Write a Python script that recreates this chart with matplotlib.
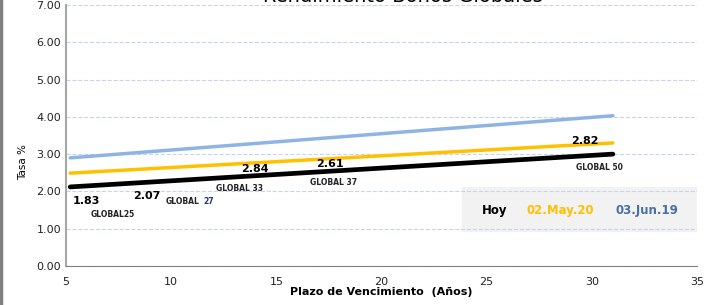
import matplotlib.pyplot as plt
from matplotlib.patches import Rectangle

# trend lines (start / end of maturity range)
plazo = [5.2, 31.0]
hoy = [2.12, 3.00]
may20 = [2.49, 3.30]
jun19 = [2.90, 4.03]

# data labels
bonos = ['GLOBAL25', 'GLOBAL 27', 'GLOBAL 33', 'GLOBAL 37', 'GLOBAL 50']
tasas = ['1.83', '2.07', '2.84', '2.61', '2.82']
tasa_pos = [(5.95, 1.74), (8.85, 1.88), (13.99, 2.60), (17.55, 2.74), (29.67, 3.35)]
bono_pos = [(7.23, 1.37), (10.94, 1.72), (13.27, 2.09), (17.74, 2.25), (30.34, 2.63)]

fig = plt.figure(figsize=(7.19, 3.05), dpi=100)
ax = fig.add_axes([0.0918, 0.128, 0.8776, 0.8556])

ax.plot(plazo, jun19, color='#8eb4e3', lw=2.5, solid_capstyle='round')
ax.plot(plazo, may20, color='#ffc000', lw=2.5, solid_capstyle='round')
ax.plot(plazo, hoy, color='black', lw=3.4, solid_capstyle='round')

for t, (x, y) in zip(tasas, tasa_pos):
    ax.text(x, y, t, ha='center', va='center', fontsize=8, fontweight='bold')
for b, (x, y) in zip(bonos, bono_pos):
    if b == 'GLOBAL 27':
        ax.text(x - 1.2, y, 'GLOBAL', ha='left', va='center', fontsize=5.5,
                fontweight='bold', color='#222222')
        ax.text(x + 0.6, y, '27', ha='left', va='center', fontsize=5.5,
                fontweight='bold', color='#1f3864')
    else:
        ax.text(x, y, b, ha='center', va='center', fontsize=5.5,
                fontweight='bold', color='#222222')

# legend box
ax.add_patch(Rectangle((23.85, 0.94), 11.15, 1.17, color='#f2f2f2', zorder=0.5))
ax.text(25.4, 1.5, 'Hoy', ha='center', va='center', fontsize=8.5, fontweight='bold')
ax.text(28.5, 1.5, '02.May.20', ha='center', va='center', fontsize=8.5,
        fontweight='bold', color='#ffc000')
ax.text(32.6, 1.5, '03.Jun.19', ha='center', va='center', fontsize=8.5,
        fontweight='bold', color='#4a6fa5')

ax.set_xlim(5, 35)
ax.set_ylim(0, 7)
ax.set_xticks([5, 10, 15, 20, 25, 30, 35])
ax.set_yticks(range(8))
ax.set_yticklabels([f'{v:.2f}' for v in range(8)])
ax.tick_params(labelsize=8, length=0, colors='#222222')
ax.tick_params(axis='x', pad=8)
ax.grid(axis='y', color='#c6d4ef', ls='--', lw=0.8)
ax.set_axisbelow(True)
for s in ['top', 'right']:
    ax.spines[s].set_visible(False)
ax.spines['left'].set_color('#a6a6a6')
ax.spines['left'].set_linewidth(1.5)
ax.spines['bottom'].set_color('#808080')

ax.set_ylabel('Tasa %', fontsize=7.5)
ax.yaxis.set_label_coords(-0.06, 0.4)
ax.set_xlabel('Plazo de Vencimiento  (Años)', fontsize=8, fontweight='bold', labelpad=0)

fig.text(0.56, 0.993, 'Rendimiento Bonos Globales', ha='center', va='baseline',
         fontsize=14)
fig.add_artist(plt.Line2D([0.002, 0.002], [0, 1], color='#7f7f7f', lw=2.5))

fig.savefig('out.png', dpi=100)
